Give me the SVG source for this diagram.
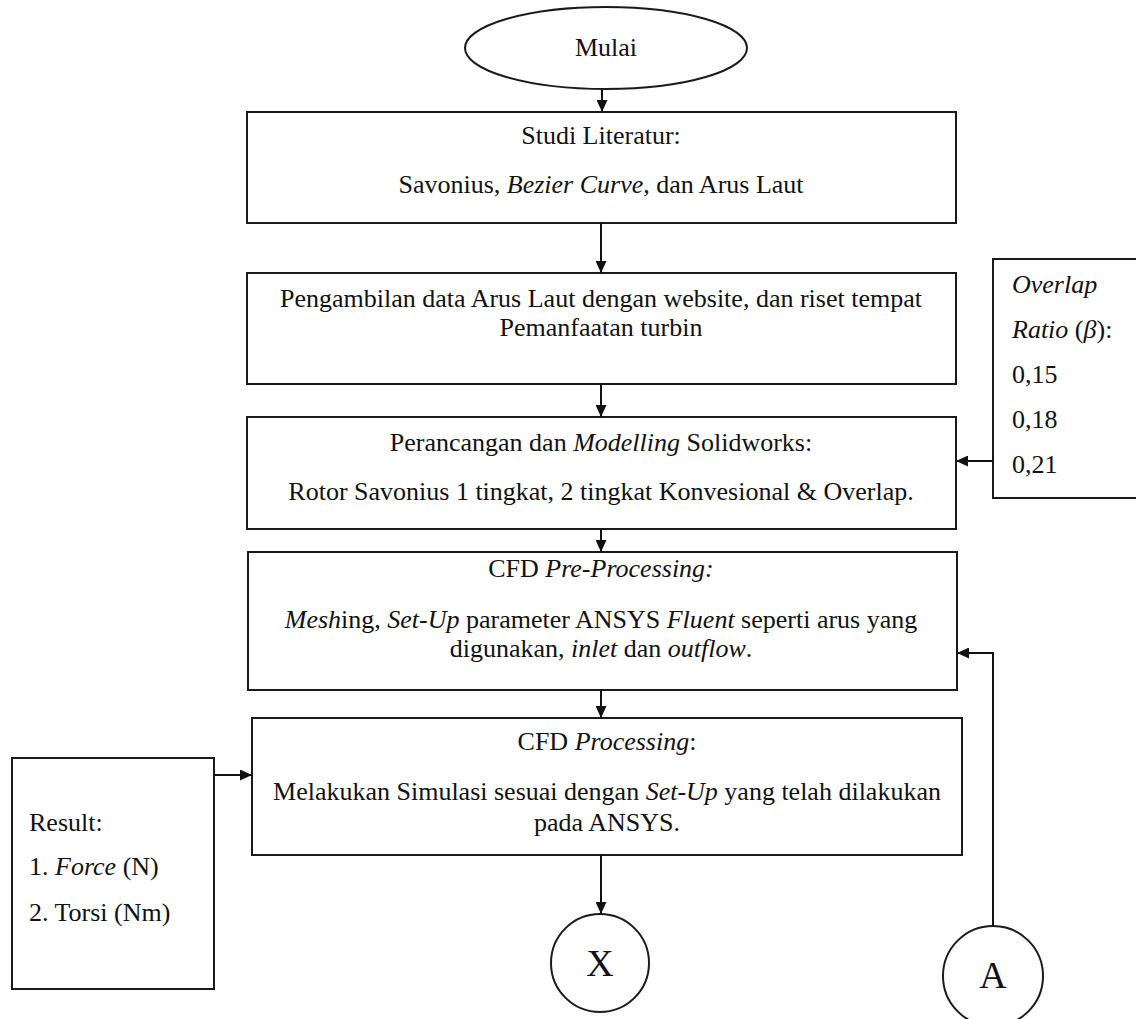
<svg xmlns="http://www.w3.org/2000/svg" width="1136" height="1019" viewBox="0 0 1136 1019">
<defs>
<style>
.box{fill:#fff;stroke:#1a1a1a;stroke-width:2}
.t{font-family:"Liberation Serif","Times New Roman",serif;font-size:26px;fill:#111}
.c{text-anchor:middle}
.i{font-style:italic}
.big{font-size:38px}
.conn path{fill:none;stroke:#111;stroke-width:2;marker-end:url(#ah)}
</style>
<marker id="ah" markerUnits="userSpaceOnUse" markerWidth="12" markerHeight="11" viewBox="0 0 12 11" refX="12" refY="5.5" orient="auto">
<path d="M0,0 L12,5.5 L0,11 z" fill="#111"/>
</marker>
</defs>
<rect width="1136" height="1019" fill="#fff"/>

<g id="mulai">
<ellipse class="box" cx="606" cy="48" rx="141" ry="41"/>
<text class="t c" x="606" y="56">Mulai</text>
</g>

<g id="studi-literatur">
<rect class="box" x="247" y="112" width="709" height="111"/>
<text class="t c" x="601" y="144">Studi Literatur:</text>
<text class="t c" x="601" y="193">Savonius, <tspan class="i">Bezier Curve,</tspan> dan Arus Laut</text>
</g>

<g id="pengambilan-data">
<rect class="box" x="247" y="273" width="709" height="111"/>
<text class="t c" x="601" y="307">Pengambilan data Arus Laut dengan website, dan riset tempat</text>
<text class="t c" x="601" y="336">Pemanfaatan turbin</text>
</g>

<g id="overlap-ratio">
<rect class="box" x="993" y="259" width="160" height="239"/>
<text class="t i" x="1012" y="293">Overlap</text>
<text class="t" x="1012" y="338"><tspan class="i">Ratio</tspan> (<tspan class="i">β</tspan>):</text>
<text class="t" x="1012" y="383">0,15</text>
<text class="t" x="1012" y="428">0,18</text>
<text class="t" x="1012" y="473">0,21</text>
</g>

<g id="perancangan">
<rect class="box" x="247" y="417" width="709" height="112"/>
<text class="t c" x="601" y="451">Perancangan dan <tspan class="i">Modelling</tspan> Solidworks:</text>
<text class="t c" x="601" y="500">Rotor Savonius 1 tingkat, 2 tingkat Konvesional &amp; Overlap.</text>
</g>

<g id="cfd-pre-processing">
<rect class="box" x="248" y="552" width="709" height="138"/>
<text class="t c" x="601" y="577">CFD <tspan class="i">Pre-Processing:</tspan></text>
<text class="t c" x="601" y="628"><tspan class="i">Mesh</tspan>ing, <tspan class="i">Set-Up</tspan> parameter ANSYS <tspan class="i">Fluent</tspan> seperti arus yang</text>
<text class="t c" x="601" y="657">digunakan, <tspan class="i">inlet</tspan> dan <tspan class="i">outflow</tspan>.</text>
</g>

<g id="cfd-processing">
<rect class="box" x="252" y="718" width="710" height="137"/>
<text class="t c" x="607" y="750">CFD <tspan class="i">Processing</tspan>:</text>
<text class="t c" x="607" y="800">Melakukan Simulasi sesuai dengan <tspan class="i">Set-Up</tspan> yang telah dilakukan</text>
<text class="t c" x="607" y="831">pada ANSYS.</text>
</g>

<g id="result">
<rect class="box" x="12" y="758" width="202" height="231"/>
<text class="t" x="29" y="831">Result:</text>
<text class="t" x="29" y="875">1. <tspan class="i">Force</tspan> (N)</text>
<text class="t" x="29" y="921">2. Torsi (Nm)</text>
</g>

<g id="connector-x">
<circle class="box" cx="600" cy="963" r="49"/>
<text class="t c big" x="600" y="976">X</text>
</g>

<g id="connector-a">
<circle class="box" cx="993" cy="976" r="50"/>
<text class="t c big" x="993" y="988">A</text>
</g>

<g id="connectors" class="conn">
<path d="M602,89 L602,112"/>
<path d="M601,223 L601,273"/>
<path d="M601,384 L601,417"/>
<path d="M601,529 L601,552"/>
<path d="M601,690 L601,718"/>
<path d="M601,855 L601,914"/>
<path d="M993,461 L956,461"/>
<path d="M993,926 L993,653 L957,653"/>
<path d="M214,775 L252,775"/>
</g>
</svg>
